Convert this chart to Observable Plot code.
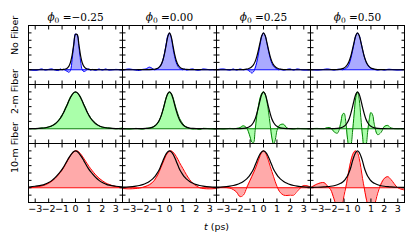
<!DOCTYPE html>
<html><head><meta charset="utf-8">
<script src="https://cdn.jsdelivr.net/npm/d3@7"></script>
<script src="https://cdn.jsdelivr.net/npm/@observablehq/plot@0.6"></script>
<style>html,body{margin:0;padding:0;background:#fff;} #chart svg{display:block}</style>
</head><body><div id="chart"></div>
<script>
// time grid (ps)
const T = [-3.5,-3,-2.5,-2.25,-2,-1.75,-1.5,-1.25,-1.125,-1,-0.875,-0.75,-0.625,-0.5,-0.375,-0.25,-0.125,0,0.125,0.25,0.375,0.5,0.625,0.75,0.875,1,1.125,1.25,1.5,1.75,2,2.25,2.5,3,3.5];
const phiLabels = ["ϕ0 =−0.25", "ϕ0 =0.00", "ϕ0 =0.25", "ϕ0 =0.50"];
const rowLabels = ["No Fiber", "2-m Fiber", "10-m Fiber"];
const xTicks = [-3, -2, -1, 0, 1, 2, 3];
const yTicks = [-0.2, 0, 0.2, 0.4, 0.6, 0.8, 1.0];
const xLabel = "t (ps)";

// No fiber
const fitNF1 = [0,0,0,0,0,0,0.001,0.002,0.003,0.005,0.009,0.019,0.042,0.092,0.2,0.4,0.7,0.96,0.955,0.69,0.39,0.19,0.09,0.042,0.02,0.01,0.005,0.003,0.001,0,0,0,0,0,0];
const datNF1 = [0.01,-0.02,0.02,-0.01,0.01,0.02,-0.01,-0.02,0.02,0,0.01,-0.02,-0.04,-0.07,-0.02,0.28,0.68,0.97,0.94,0.62,0.24,0,-0.05,-0.03,0.01,0.02,-0.01,0.01,-0.02,0.02,-0.01,0.02,-0.01,0.01,-0.01];
const fitNF2 = [0,0,0,0.001,0.001,0.002,0.004,0.009,0.014,0.024,0.042,0.077,0.14,0.25,0.43,0.666,0.9,1,0.9,0.666,0.43,0.25,0.14,0.077,0.042,0.024,0.014,0.009,0.004,0.002,0.001,0.001,0,0,0];
const datNF2 = [-0.01,0.02,-0.01,-0.02,0.01,0.02,0.07,0.03,0,0.01,0.03,0.07,0.13,0.25,0.44,0.69,0.92,0.99,0.87,0.6,0.36,0.19,0.09,0.04,0.01,0,0.02,-0.01,0.01,0.02,-0.01,-0.01,0.02,0,0.01];
const fitNF3 = [0,0,0,0,0.001,0.002,0.005,0.015,0.027,0.046,0.08,0.133,0.22,0.355,0.54,0.745,0.927,1,0.927,0.745,0.54,0.355,0.22,0.133,0.08,0.046,0.027,0.015,0.005,0.002,0.001,0,0,0,0];
const datNF3 = [0,0.02,-0.01,0.02,-0.01,0.02,0,0.01,-0.02,-0.05,-0.09,-0.06,0.04,0.2,0.43,0.69,0.91,0.99,0.92,0.72,0.5,0.31,0.17,0.09,0.05,0.02,0,0.01,-0.01,0.01,0.02,-0.01,0.02,-0.01,0];
const fitNF4 = [0,0,0,0,0.001,0.002,0.006,0.017,0.03,0.05,0.086,0.142,0.232,0.366,0.55,0.752,0.93,1,0.93,0.752,0.55,0.366,0.232,0.142,0.086,0.05,0.03,0.017,0.006,0.002,0.001,0,0,0,0];
const datNF4 = [0.01,-0.01,0.01,0.02,0.01,-0.01,0.01,0.01,0,0.01,0.03,0.07,0.15,0.3,0.5,0.72,0.92,0.99,0.93,0.76,0.55,0.36,0.22,0.13,0.07,0.04,0.02,0.01,-0.01,0.01,-0.01,0.01,0.01,-0.01,0.01];

// 2-m fiber
const fit2m1 = [0.002,0.005,0.016,0.028,0.048,0.083,0.138,0.228,0.285,0.36,0.445,0.545,0.643,0.75,0.85,0.928,0.98,1,0.98,0.928,0.85,0.75,0.643,0.545,0.445,0.36,0.285,0.228,0.138,0.083,0.048,0.028,0.016,0.005,0.002];
const dat2m1 = [0.01,0,0.02,0.02,0.05,0.08,0.14,0.23,0.3,0.37,0.45,0.56,0.65,0.76,0.86,0.92,0.97,0.99,0.97,0.93,0.86,0.76,0.66,0.57,0.45,0.37,0.3,0.24,0.15,0.08,0.04,0.03,0.02,0,0.02];
const fit2m2 = [0,0,0.001,0.001,0.003,0.008,0.019,0.045,0.07,0.106,0.162,0.24,0.35,0.494,0.66,0.83,0.952,1,0.952,0.83,0.66,0.494,0.35,0.24,0.162,0.106,0.07,0.045,0.019,0.008,0.003,0.001,0.001,0,0];
const dat2m2 = [0.01,-0.01,0.01,0,-0.01,0.01,0.02,0.04,0.07,0.1,0.15,0.23,0.34,0.49,0.67,0.84,0.95,0.99,0.96,0.86,0.7,0.54,0.4,0.28,0.2,0.13,0.08,0.05,0.01,-0.01,0,-0.02,0.01,0,-0.01];
const fit2m3 = [0,0,0,0,0.001,0.003,0.009,0.024,0.04,0.066,0.106,0.17,0.266,0.41,0.585,0.78,0.937,1,0.937,0.78,0.585,0.41,0.266,0.17,0.106,0.066,0.04,0.024,0.009,0.003,0.001,0,0,0,0];
const dat2m3 = [0.01,-0.01,0.01,0,0.01,0.03,0.08,0.02,-0.08,-0.22,-0.36,-0.38,-0.05,0.35,0.62,0.84,0.96,1,0.94,0.75,0.45,0.1,-0.25,-0.42,-0.3,-0.05,0.06,0.11,0.12,0.02,0,-0.01,0.01,0,0];
const fit2m4 = [0,0,0,0,0.001,0.003,0.009,0.024,0.04,0.066,0.106,0.17,0.266,0.41,0.585,0.78,0.937,1,0.937,0.78,0.585,0.41,0.266,0.17,0.106,0.066,0.04,0.024,0.009,0.003,0.001,0,0,0,0];
const dat2m4 = [0,0.01,0,0.03,0.02,-0.08,-0.12,0.15,0.38,0.42,0.2,-0.25,-0.5,-0.45,-0.1,0.4,0.85,1,0.8,0.3,-0.2,-0.5,-0.45,-0.1,0.25,0.44,0.38,0.12,-0.16,-0.1,0.06,0.09,0.02,0,0.01];

// 10-m fiber
const fit10m1 = [0.02,0.04,0.07,0.1,0.14,0.2,0.28,0.38,0.44,0.5,0.57,0.65,0.73,0.81,0.88,0.94,0.985,1,0.985,0.94,0.88,0.81,0.73,0.65,0.57,0.5,0.44,0.38,0.28,0.2,0.14,0.1,0.07,0.04,0.02];
const dat10m1 = [0,0.02,0.05,0.08,0.12,0.18,0.26,0.36,0.42,0.48,0.55,0.63,0.71,0.79,0.87,0.93,0.975,1,1,0.97,0.92,0.86,0.79,0.72,0.65,0.58,0.52,0.46,0.35,0.26,0.19,0.13,0.09,0.03,0];
const fit10m2 = [0.015,0.025,0.045,0.06,0.085,0.12,0.17,0.24,0.29,0.35,0.42,0.5,0.61,0.72,0.83,0.92,0.975,1,0.975,0.92,0.83,0.72,0.61,0.5,0.42,0.35,0.29,0.24,0.17,0.12,0.085,0.06,0.045,0.025,0.015];
const dat10m2 = [-0.02,-0.03,-0.02,-0.01,0.01,0.04,0.08,0.15,0.2,0.27,0.35,0.45,0.56,0.67,0.78,0.88,0.95,0.99,1,0.97,0.92,0.85,0.77,0.68,0.6,0.52,0.44,0.36,0.22,0.12,0.05,0,-0.02,-0.03,-0.02];
const fit10m3 = [0.015,0.025,0.045,0.06,0.085,0.12,0.17,0.24,0.29,0.35,0.42,0.5,0.61,0.72,0.83,0.92,0.975,1,0.975,0.92,0.83,0.72,0.61,0.5,0.42,0.35,0.29,0.24,0.17,0.12,0.085,0.06,0.045,0.025,0.015];
const dat10m3 = [0,0.01,-0.01,-0.05,-0.12,-0.24,-0.2,0,0.1,0.2,0.3,0.4,0.5,0.62,0.75,0.87,0.96,1,0.96,0.86,0.73,0.58,0.44,0.3,0.16,0.04,-0.06,-0.13,-0.2,-0.21,-0.2,-0.2,-0.1,0.06,0.02];
const fit10m4 = [0.008,0.013,0.022,0.03,0.04,0.055,0.08,0.12,0.15,0.19,0.25,0.32,0.42,0.55,0.72,0.86,0.96,1,0.96,0.86,0.72,0.55,0.42,0.32,0.25,0.19,0.15,0.12,0.08,0.055,0.04,0.03,0.022,0.013,0.008];
const dat10m4 = [0,0.1,0.14,0.05,-0.05,-0.3,-0.55,-0.6,-0.45,-0.2,0,0.25,0.5,0.72,0.88,0.97,1,0.95,0.8,0.55,0.25,0,-0.25,-0.45,-0.6,-0.65,-0.6,-0.5,-0.15,0.1,0.25,0.3,0.22,0,-0.06];

const measured = [[datNF1, datNF2, datNF3, datNF4], [dat2m1, dat2m2, dat2m3, dat2m4], [dat10m1, dat10m2, dat10m3, dat10m4]];
const fits = [[fitNF1, fitNF2, fitNF3, fitNF4], [fit2m1, fit2m2, fit2m3, fit2m4], [fit10m1, fit10m2, fit10m3, fit10m4]];

const lineColors = ["#0000ff", "#008000", "#ff0000"];
const fillColors = ["#aaaaff", "#aaffaa", "#ffaaaa"];

const table = [];
const panels = [];
rowLabels.forEach((r, i) => phiLabels.forEach((p, j) => {
  panels.push({row: r, col: p});
  T.forEach((t, k) => table.push({t, y: measured[i][j][k], fit: fits[i][j][k], row: r, col: p}));
}));

const fmt = d => d < 0 ? "\u2212" + Math.abs(d) : String(d);
const marks = [];
rowLabels.forEach((r, i) => {
  const sub = table.filter(d => d.row === r);
  marks.push(Plot.areaY(sub, {x: "t", y1: 0, y2: "y", fx: "col", fy: "row", fill: fillColors[i], curve: "catmull-rom", clip: true}));
});
rowLabels.forEach((r, i) => {
  const sub = table.filter(d => d.row === r);
  marks.push(Plot.ruleY(panels.filter(d => d.row === r), {y: () => 0, fx: "col", fy: "row", stroke: lineColors[i], strokeWidth: 1}));
  marks.push(Plot.lineY(sub, {x: "t", y: "y", fx: "col", fy: "row", stroke: lineColors[i], strokeWidth: 1, curve: "catmull-rom", clip: true}));
});
marks.push(Plot.lineY(table, {x: "t", y: "fit", fx: "col", fy: "row", stroke: "black", strokeWidth: 1.2, curve: "catmull-rom", clip: true}));
marks.push(Plot.frame({stroke: "black", strokeWidth: 1}));
marks.push(Plot.axisX(xTicks, {anchor: "top", tickSize: 3.5, dy: 3.5, fill: "none", label: null, facetAnchor: null}));
marks.push(Plot.axisX(xTicks, {anchor: "bottom", tickSize: 3.5, dy: -3.5, fill: "none", label: null, facetAnchor: null}));
marks.push(Plot.axisY(yTicks, {anchor: "left", tickSize: 3.5, dx: 3.5, fill: "none", label: null, facetAnchor: null}));
marks.push(Plot.axisY(yTicks, {anchor: "right", tickSize: 3.5, dx: -3.5, fill: "none", label: null, facetAnchor: null}));
marks.push(Plot.axisX(xTicks, {anchor: "bottom", tickSize: 0, tickPadding: 3, tickFormat: fmt, label: null, fill: "black"}));
marks.push(Plot.text(phiLabels, {fx: d => d, fy: () => rowLabels[0], text: d => d, frameAnchor: "top", dy: -5, lineAnchor: "bottom", fontFamily: "DejaVu Serif", fontSize: 10.5, fill: "black"}));
marks.push(Plot.text(rowLabels, {fy: d => d, fx: () => phiLabels[0], text: d => d, frameAnchor: "left", rotate: -90, dx: -14, fontSize: 9.5, fill: "black"}));
marks.push(Plot.text([xLabel], {fx: () => phiLabels[1], fy: () => rowLabels[2], text: d => d, frameAnchor: "bottom-right", textAnchor: "middle", dy: 27, fontSize: 9.5, fill: "black"}));

const chart = Plot.plot({
  width: 415, height: 242,
  marginLeft: 27.5, marginRight: 10, marginTop: 24, marginBottom: 40,
  style: {fontFamily: "DejaVu Sans", fontSize: "9.5px", background: "white", color: "black"},
  x: {domain: [-3.5, 3.5]},
  y: {domain: [-0.4, 1.2]},
  fx: {domain: phiLabels, padding: 0, axis: null},
  fy: {domain: rowLabels, padding: 0, axis: null},
  marks
});
document.getElementById("chart").appendChild(chart);

// math-style formatting of the titles and x label
d3.select(chart).selectAll("text").each(function() {
  const s = this.textContent;
  const el = d3.select(this);
  if (s.startsWith("ϕ0")) {
    el.text("");
    el.append("tspan").attr("font-style", "italic").text("ϕ");
    el.append("tspan").attr("font-size", 7.5).attr("dy", 2.5).text("0");
    el.append("tspan").attr("dy", -2.5).text(" " + s.slice(3));
  } else if (s === xLabel) {
    el.text("");
    el.append("tspan").attr("font-style", "italic").text("t");
    el.append("tspan").text(" (ps)");
  }
});
</script></body></html>
